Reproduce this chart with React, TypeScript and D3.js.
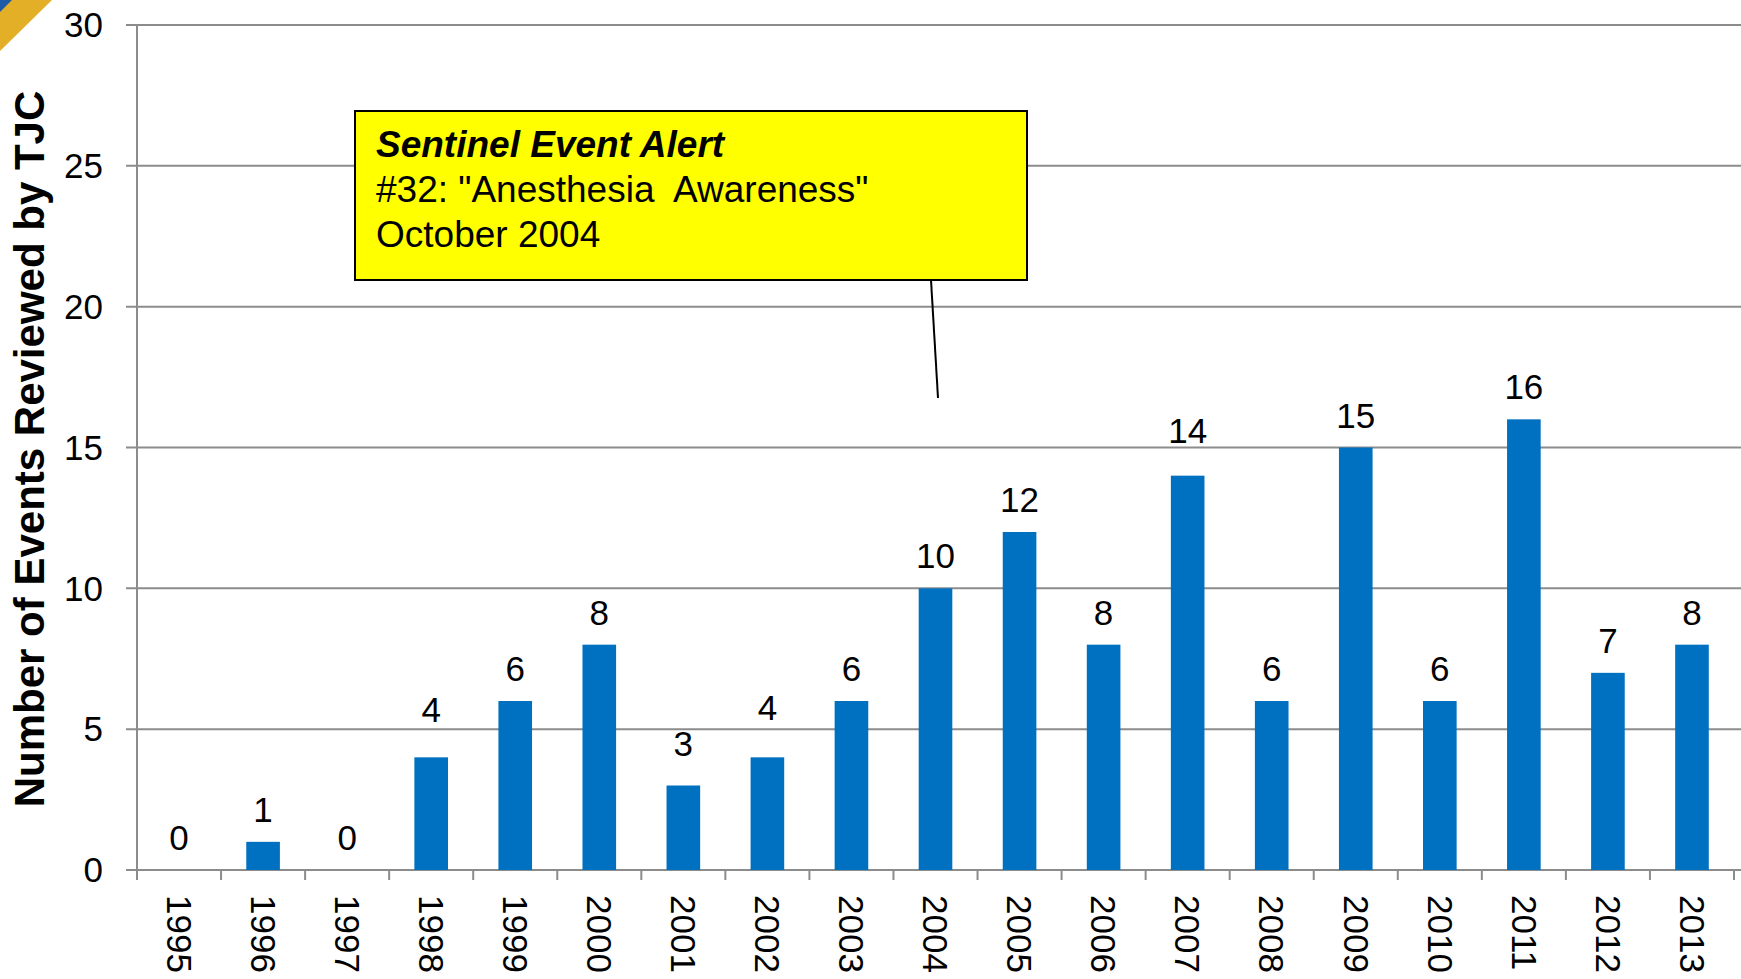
import React from "react";
import * as d3 from "d3";

const years = ["1995","1996","1997","1998","1999","2000","2001","2002","2003","2004","2005","2006","2007","2008","2009","2010","2011","2012","2013"];
const events = [0,1,0,4,6,8,3,4,6,10,12,8,14,6,15,6,16,7,8];
const yTicks = [0,5,10,15,20,25,30];
const yTitle = "Number of Events Reviewed by TJC";
const calloutLines = ["Sentinel Event Alert", "#32: \"Anesthesia\u00A0 Awareness\"", "October 2004"];

// label placement tweaks (styling, px gap above bar top)
const labelGap: Record<string, number> = { "1998": 35, "2001": 30, "2002": 37, "2007": 33 };

const W = 1741, H = 979;
const left = 137, right = 1734, top = 25, bottom = 870;
const FONT = "Liberation Sans, Arial, Helvetica, sans-serif";

export default function App() {
  const x = d3.scaleBand<string>().domain(years).range([left, right]).paddingInner(0.6).paddingOuter(0.3);
  const xb = d3.scaleBand<string>().domain(years).range([left, right]);
  const y = d3.scaleLinear().domain([0, 30]).range([bottom, top]);
  const gridColor = "#8c8c8c";
  return (
    <svg width={W} height={H} style={{ position: "absolute", left: 0, top: 0, background: "#fff" }} fontFamily={FONT}>
      <polygon points="0,0 52,0 0,51" fill="#E3AF26" />
      <polygon points="0,0 12,0 0,12" fill="#1F5AA6" />
      {yTicks.map((t) => (
        <g key={t}>
          <line x1={126} x2={W} y1={y(t)} y2={y(t)} stroke={gridColor} strokeWidth={2} />
          <text x={103} y={y(t)} dy="0.35em" textAnchor="end" fontSize={35} fill="#000">{t}</text>
        </g>
      ))}
      <line x1={left} x2={left} y1={top} y2={bottom} stroke={gridColor} strokeWidth={2} />
      {years.map((yr) => (
        <line key={"tk" + yr} x1={xb(yr)! + xb.bandwidth()} x2={xb(yr)! + xb.bandwidth()} y1={bottom} y2={bottom + 10} stroke={gridColor} strokeWidth={2} />
      ))}
      <line x1={left} x2={left} y1={bottom} y2={bottom + 10} stroke={gridColor} strokeWidth={2} />
      {years.map((yr, i) => {
        const cx = xb(yr)! + xb.bandwidth() / 2;
        const gap = labelGap[yr] ?? 20;
        return (
          <g key={yr}>
            {events[i] > 0 && (
              <rect x={x(yr)} y={y(events[i])} width={x.bandwidth()} height={bottom - y(events[i])} fill="#0070C0" />
            )}
            <text x={cx} y={y(events[i]) - gap} textAnchor="middle" fontSize={35} fill="#000">{events[i]}</text>
            <text transform={`translate(${cx},895) rotate(90)`} dy="0.35em" textAnchor="start" fontSize={35} fill="#000">{yr}</text>
          </g>
        );
      })}
      <text transform={`translate(44,449) rotate(-90)`} textAnchor="middle" fontSize={42} fontWeight="bold" fill="#000">{yTitle}</text>
      <line x1={931} y1={280} x2={938} y2={398} stroke="#000" strokeWidth={2} />
      <rect x={355} y={111} width={672} height={169} fill="#FFFF00" stroke="#000" strokeWidth={2} />
      <text x={376} y={157} fontSize={37} fontWeight="bold" fontStyle="italic" fill="#000">{calloutLines[0]}</text>
      <text x={376} y={202} fontSize={37} fill="#000">{calloutLines[1]}</text>
      <text x={376} y={247} fontSize={37} fill="#000">{calloutLines[2]}</text>
    </svg>
  );
}
